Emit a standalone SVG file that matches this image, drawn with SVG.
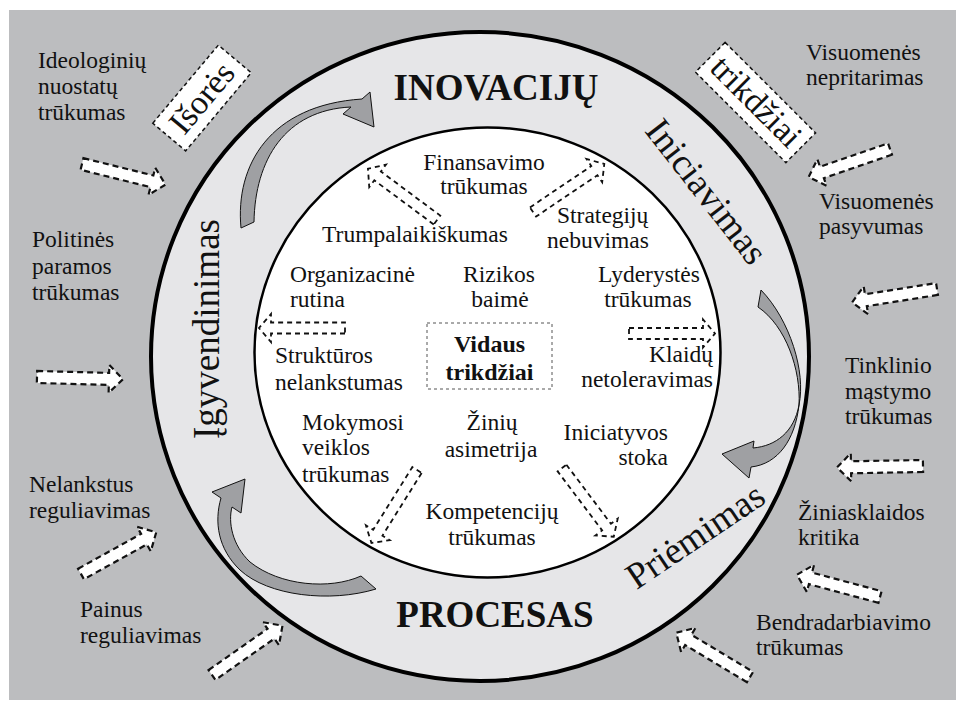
<svg xmlns="http://www.w3.org/2000/svg" width="956" height="702" viewBox="0 0 956 702">
<defs>
<style>
.t{font-family:"Liberation Serif","Times New Roman",serif;font-size:23.5px;fill:#111}
.m{text-anchor:middle}
.e{text-anchor:end}
.h{font-family:"Liberation Serif","Times New Roman",serif;font-size:37px;font-weight:bold;text-anchor:middle;fill:#111}
.vb{font-family:"Liberation Serif","Times New Roman",serif;font-size:24px;font-weight:bold;text-anchor:middle;fill:#111}
.b{font-family:"Liberation Serif","Times New Roman",serif;font-size:37px;text-anchor:middle;fill:#111}
.bx{font-family:"Liberation Serif","Times New Roman",serif;font-size:34px;text-anchor:middle;fill:#111}
.box{fill:#fff;stroke:#111;stroke-width:1.5;stroke-dasharray:4 3}
.da{fill:#fff;stroke:#111;stroke-width:2.2;stroke-dasharray:6 4}
.di{fill:#fff;stroke:#111;stroke-width:1.8;stroke-dasharray:5 4}
.ca{fill:#9fa0a3;stroke:#111;stroke-width:1}
</style>
</defs>

<g id="background">
<rect x="9" y="10" width="947" height="690" fill="#bcbdbf"/>
</g>
<g id="outer-ring">
<ellipse cx="480" cy="356.5" rx="329" ry="324.5" fill="#e6e6e8" stroke="#000" stroke-width="4"/>
</g>
<g id="inner-circle">
<ellipse cx="487.5" cy="352.5" rx="233" ry="225" fill="#fff" stroke="#000" stroke-width="2.5"/>
</g>

<g id="connectors">
<g id="cycle-arrows">
<path class="ca" d="M241,228 C235,165 270,105 362,99 L370,92 L374,127 L343,114 L351,107 C285,110 255,160 254,222 Z"/>
<path class="ca" d="M761,290 C790,320 806,372 799,405 C794,432 776,446 753,448 L754,441 L722,454 L749,478 L751,467 C778,464 795,440 799,405 C801,370 786,326 758,307 Z"/>
<path class="ca" d="M376,589 C330,603 268,596 240,570 C218,549 214,522 221,498 L212,492 L245,479 L241,513 L232,507 C228,522 232,545 250,562 C280,586 330,590 361,576 Z"/>
</g>
<g id="external-arrows">
<path class="da" transform="translate(82,164) rotate(13.9)" d="M0,-6H72V-14L86,0L72,14V6H0Z"/>
<path class="da" transform="translate(37,377) rotate(1.5)" d="M0,-6H72V-14L86,0L72,14V6H0Z"/>
<path class="da" transform="translate(81,574) rotate(-29)" d="M0,-6H72V-14L86,0L72,14V6H0Z"/>
<path class="da" transform="translate(212,675) rotate(-35)" d="M0,-6H72V-14L86,0L72,14V6H0Z"/>
<path class="da" transform="translate(890,149) rotate(161)" d="M0,-6H72V-14L86,0L72,14V6H0Z"/>
<path class="da" transform="translate(937,289) rotate(171)" d="M0,-6H72V-14L86,0L72,14V6H0Z"/>
<path class="da" transform="translate(923,466) rotate(179)" d="M0,-6H72V-14L86,0L72,14V6H0Z"/>
<path class="da" transform="translate(880,597) rotate(195)" d="M0,-6H72V-14L86,0L72,14V6H0Z"/>
<path class="da" transform="translate(750,677) rotate(211)" d="M0,-6H72V-14L86,0L72,14V6H0Z"/>
</g>
<g id="internal-arrows">
<path class="di" transform="translate(437,220) rotate(216.6)" d="M0,-5.5H74V-14L86,0L74,14V5.5H0Z"/>
<path class="di" transform="translate(533,212) rotate(-34)" d="M0,-5.5H74V-14L86,0L74,14V5.5H0Z"/>
<path class="di" transform="translate(345,328) rotate(180)" d="M0,-5.5H74V-14L86,0L74,14V5.5H0Z"/>
<path class="di" transform="translate(629,333.5) rotate(0)" d="M0,-5.5H74V-14L86,0L74,14V5.5H0Z"/>
<path class="di" transform="translate(417,470) rotate(122)" d="M0,-5.5H74V-14L86,0L74,14V5.5H0Z"/>
<path class="di" transform="translate(562,468) rotate(53)" d="M0,-5.5H74V-14L86,0L74,14V5.5H0Z"/>
</g>
</g>

<g id="title-top"><text class="h" x="496" y="100">INOVACIJŲ</text></g>
<g id="title-bottom"><text class="h" x="495" y="627">PROCESAS</text></g>
<g id="stage-igyvendinimas"><text class="b" transform="translate(219,329) rotate(-90)">Įgyvendinimas</text></g>
<g id="stage-iniciavimas"><text class="b" transform="translate(697,199) rotate(52)">Iniciavimas</text></g>
<g id="stage-priemimas"><text class="b" transform="translate(702,546) rotate(-34)">Priėmimas</text></g>

<g id="box-isores" transform="translate(202,98) rotate(-50)">
<rect class="box" x="-51" y="-21.5" width="102" height="43"/>
<text class="bx" x="0" y="11">Išorės</text>
</g>
<g id="box-trikdziai" transform="translate(755.5,102.5) rotate(45)">
<rect class="box" x="-64" y="-21" width="128" height="42"/>
<text class="bx" x="0" y="10">trikdžiai</text>
</g>
<g id="box-vidaus">
<rect x="427" y="323" width="125" height="66" fill="none" stroke="#555" stroke-width="1" stroke-dasharray="3 3"/>
<text class="vb" x="489.5" y="352">Vidaus</text>
<text class="vb" x="489.5" y="380">trikdžiai</text>
</g>

<g id="ext-ideologiniu"><text class="t" x="38" y="68">Ideologinių</text><text class="t" x="38" y="94">nuostatų</text><text class="t" x="38" y="120">trūkumas</text></g>
<g id="ext-politines"><text class="t" x="32" y="247">Politinės</text><text class="t" x="32" y="274">paramos</text><text class="t" x="32" y="300">trūkumas</text></g>
<g id="ext-nelankstus"><text class="t" x="29" y="492">Nelankstus</text><text class="t" x="29" y="518">reguliavimas</text></g>
<g id="ext-painus"><text class="t" x="80" y="617">Painus</text><text class="t" x="80" y="643">reguliavimas</text></g>
<g id="ext-nepritarimas"><text class="t" x="806" y="60">Visuomenės</text><text class="t" x="806" y="85">nepritarimas</text></g>
<g id="ext-pasyvumas"><text class="t" x="819" y="209">Visuomenės</text><text class="t" x="819" y="234">pasyvumas</text></g>
<g id="ext-tinklinio"><text class="t" x="845" y="373">Tinklinio</text><text class="t" x="845" y="399">mąstymo</text><text class="t" x="845" y="424">trūkumas</text></g>
<g id="ext-ziniasklaidos"><text class="t" x="798" y="520">Žiniasklaidos</text><text class="t" x="798" y="545">kritika</text></g>
<g id="ext-bendradarbiavimo"><text class="t" x="756" y="630">Bendradarbiavimo</text><text class="t" x="756" y="655">trūkumas</text></g>

<g id="int-finansavimo"><text class="t m" x="484" y="170">Finansavimo</text><text class="t m" x="484" y="194">trūkumas</text></g>
<g id="int-trumpalaikiskumas"><text class="t m" x="415" y="242">Trumpalaikiškumas</text></g>
<g id="int-strategiju"><text class="t" x="557" y="223">Strategijų</text><text class="t" x="547" y="248">nebuvimas</text></g>
<g id="int-organizacine"><text class="t" x="290" y="282">Organizacinė</text><text class="t" x="290" y="307">rutina</text></g>
<g id="int-rizikos"><text class="t m" x="499" y="282">Rizikos</text><text class="t m" x="500" y="307">baimė</text></g>
<g id="int-lyderystes"><text class="t m" x="649" y="282">Lyderystės</text><text class="t m" x="648" y="307">trūkumas</text></g>
<g id="int-strukturos"><text class="t" x="275" y="363">Struktūros</text><text class="t" x="275" y="390">nelankstumas</text></g>
<g id="int-klaidu"><text class="t e" x="713" y="362">Klaidų</text><text class="t e" x="713" y="387">netoleravimas</text></g>
<g id="int-mokymosi"><text class="t" x="302" y="430">Mokymosi</text><text class="t" x="302" y="455">veiklos</text><text class="t" x="302" y="482">trūkumas</text></g>
<g id="int-piniu"><text class="t m" x="492" y="430">Žinių</text><text class="t m" x="491" y="457">asimetrija</text></g>
<g id="int-iniciatyvos"><text class="t e" x="668" y="440">Iniciatyvos</text><text class="t e" x="668" y="465">stoka</text></g>
<g id="int-kompetenciju"><text class="t m" x="492" y="519">Kompetencijų</text><text class="t m" x="492" y="545">trūkumas</text></g>
</svg>
